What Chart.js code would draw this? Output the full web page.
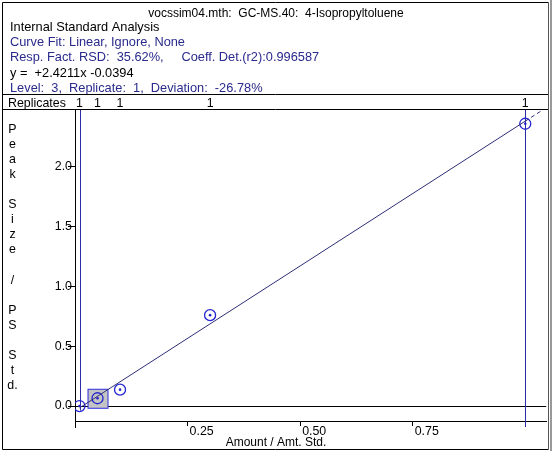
<!DOCTYPE html>
<html>
<head>
<meta charset="utf-8">
<script src="https://cdn.jsdelivr.net/npm/chart.js@4.4.1/dist/chart.umd.min.js"></script>
<style>
  body { margin: 0; background: #fff; }
  canvas { display: block; }
</style>
</head>
<body>
<canvas id="calChart" width="553" height="451"></canvas>
<script>
// calibration levels (amount / amt. std.) and response (peak size / PS std.)
const levelAmounts = [0.01, 0.05, 0.1, 0.3, 1.0];
const levelResponses = [0.0, 0.065, 0.137, 0.76, 2.36];
const replicateCounts = ["1", "1", "1", "1", "1"];
const xTickValues = [0.25, 0.5, 0.75];
const yTickValues = [0, 0.5, 1.0, 1.5, 2.0];
const fitSlope = 2.4211;
const fitIntercept = -0.0394;
const selectedLevel = 1;

const headerLines = [
  { text: "Internal Standard Analysis", color: "#000" },
  { text: "Curve Fit: Linear, Ignore, None", color: "#2a2a8c" },
  { text: "Resp. Fact. RSD:  35.62%,     Coeff. Det.(r2):0.996587", color: "#2a2a8c" },
  { text: "y =  +2.4211x -0.0394", color: "#000" },
  { text: "Level:  3,  Replicate:  1,  Deviation:  -26.78%", color: "#2a2a8c" },
];
const chartTitle = "vocssim04.mth:  GC-MS.40:  4-Isopropyltoluene";
const yTitleLetters = ["P", "e", "a", "k", "", "S", "i", "z", "e", "", "/", "", "P", "S", "", "S", "t", "d."];
const xTitle = "Amount / Amt. Std.";

const FONT = "Arial, 'Liberation Sans', sans-serif";
const X_MAX = 1.0465;

const points = levelAmounts.map((x, i) => ({ x: x, y: levelResponses[i] }));
const lastX = levelAmounts[levelAmounts.length - 1];
const fitAt = (x) => fitSlope * x + fitIntercept;

// dessin du cadre, des textes et des marques spéciales
const framePlugin = {
  id: "frame",
  beforeDraw(chart) {
    const ctx = chart.ctx;
    ctx.save();
    ctx.fillStyle = "#fff";
    ctx.fillRect(0, 0, chart.width, chart.height);

    ctx.font = "12px " + FONT;
    ctx.textBaseline = "alphabetic";
    ctx.fillStyle = "#000";
    ctx.textAlign = "center";
    ctx.fillText(chartTitle, 276, 16.5);

    ctx.font = "12.8px " + FONT;
    ctx.textAlign = "left";
    headerLines.forEach((line, i) => {
      ctx.fillStyle = line.color;
      ctx.fillText(line.text, 10, 31 + i * 15.2);
    });

    // rangée des réplicats
    ctx.strokeStyle = "#000";
    ctx.lineWidth = 1;
    ctx.beginPath();
    ctx.moveTo(3, 94.5); ctx.lineTo(548, 94.5);
    ctx.moveTo(3, 109.5); ctx.lineTo(548, 109.5);
    ctx.stroke();
    ctx.font = "12.4px " + FONT;
    ctx.fillStyle = "#000";
    ctx.fillText("Replicates", 8, 106.5);
    ctx.textAlign = "center";
    const xs = chart.scales.x;
    levelAmounts.forEach((x, i) => {
      ctx.fillText(replicateCounts[i], xs.getPixelForValue(x), 106.5);
    });

    // titre vertical, une lettre par ligne
    yTitleLetters.forEach((ch, i) => {
      ctx.fillText(ch, 12.5, 132.5 + i * 15.1);
    });
    ctx.font = "12px " + FONT;
    ctx.fillText(xTitle, 276, 445.5);
    ctx.restore();
  },
  beforeDatasetsDraw(chart) {
    const ctx = chart.ctx;
    const xs = chart.scales.x;
    const ys = chart.scales.y;
    const area = chart.chartArea;
    ctx.save();
    // ligne du zéro
    const y0 = Math.round(ys.getPixelForValue(0)) + 0.5;
    ctx.strokeStyle = "#000";
    ctx.lineWidth = 1;
    ctx.beginPath();
    ctx.moveTo(area.left, y0); ctx.lineTo(area.right, y0);
    ctx.moveTo(area.left + 0.5, area.bottom); ctx.lineTo(area.left + 0.5, area.bottom + 7);
    ctx.stroke();

    // bornes de calibration en bleu
    const xa = Math.round(xs.getPixelForValue(levelAmounts[0])) + 0.5;
    const xb = Math.round(xs.getPixelForValue(lastX)) + 0.5;
    ctx.strokeStyle = "#2c2ca8";
    ctx.beginPath();
    ctx.moveTo(xa, area.top); ctx.lineTo(xa, y0 + 4);
    ctx.moveTo(xb, area.top); ctx.lineTo(xb, area.bottom + 6);
    ctx.stroke();

    // case du niveau sélectionné
    const px = xs.getPixelForValue(levelAmounts[selectedLevel]);
    const py = ys.getPixelForValue(levelResponses[selectedLevel]);
    ctx.fillStyle = "#c4c4c4";
    ctx.fillRect(px - 9.5, py - 9, 20, 19);
    ctx.strokeStyle = "#2c2ce0";
    ctx.strokeRect(px - 9.5, py - 9, 20, 19);
    ctx.restore();
  },
  afterDraw(chart) {
    const ctx = chart.ctx;
    ctx.save();
    ctx.lineWidth = 1;
    ctx.strokeStyle = "#000";
    ctx.beginPath();
    ctx.moveTo(548.5, 2.5); ctx.lineTo(2.5, 2.5); ctx.lineTo(2.5, 449.5); ctx.lineTo(548.5, 449.5);
    ctx.stroke();
    ctx.strokeStyle = "#555";
    ctx.beginPath();
    ctx.moveTo(548.5, 2.5); ctx.lineTo(548.5, 449.5);
    ctx.stroke();
    ctx.strokeStyle = "#999";
    ctx.lineWidth = 2;
    ctx.beginPath();
    ctx.moveTo(551, 0); ctx.lineTo(551, 451);
    ctx.stroke();
    ctx.restore();
  },
};

new Chart(document.getElementById("calChart"), {
  type: "scatter",
  data: {
    datasets: [
      {
        type: "line",
        data: [
          { x: levelAmounts[0], y: fitAt(levelAmounts[0]) },
          { x: lastX, y: fitAt(lastX) },
        ],
        borderColor: "#2e2e78",
        borderWidth: 1,
        pointRadius: 0,
        tension: 0,
      },
      {
        type: "line",
        data: [
          { x: lastX, y: fitAt(lastX) },
          { x: X_MAX, y: fitAt(X_MAX) },
        ],
        borderColor: "#2e2e78",
        borderWidth: 1,
        borderDash: [4, 3],
        pointRadius: 0,
        tension: 0,
      },
      {
        data: points,
        pointStyle: "circle",
        pointRadius: 5.5,
        borderWidth: 1.3,
        borderColor: "#2424d0",
        backgroundColor: "rgba(0,0,0,0)",
      },
      {
        data: points,
        pointStyle: "circle",
        pointRadius: 1.3,
        borderWidth: 0,
        backgroundColor: "#2424d0",
      },
    ],
  },
  options: {
    responsive: false,
    animation: false,
    events: [],
    layout: { padding: { top: 110, right: 5, left: 0, bottom: 0 } },
    plugins: { legend: { display: false }, tooltip: { enabled: false } },
    scales: {
      x: {
        type: "linear",
        min: 0,
        max: X_MAX,
        afterBuildTicks: (s) => { s.ticks = xTickValues.map((v) => ({ value: v })); },
        afterFit: (s) => { s.height = 30; },
        grid: { drawOnChartArea: false, drawTicks: true, tickLength: 5, color: "#000" },
        border: { display: true, color: "#000" },
        ticks: {
          align: "start",
          labelOffset: 2,
          padding: -2,
          color: "#000",
          font: { family: FONT, size: 12.4 },
          callback: (v) => Number(v).toFixed(2),
        },
      },
      y: {
        type: "linear",
        min: -0.125,
        max: 2.475,
        afterBuildTicks: (s) => { s.ticks = yTickValues.map((v) => ({ value: v })); },
        afterFit: (s) => { s.width = 75; },
        grid: { drawOnChartArea: false, drawTicks: true, tickLength: 7, color: "#000" },
        border: { display: true, color: "#000" },
        ticks: {
          padding: -4,
          color: "#000",
          font: { family: FONT, size: 12.4 },
          callback: (v) => Number(v).toFixed(1),
        },
      },
    },
  },
  plugins: [framePlugin],
});
</script>
</body>
</html>
